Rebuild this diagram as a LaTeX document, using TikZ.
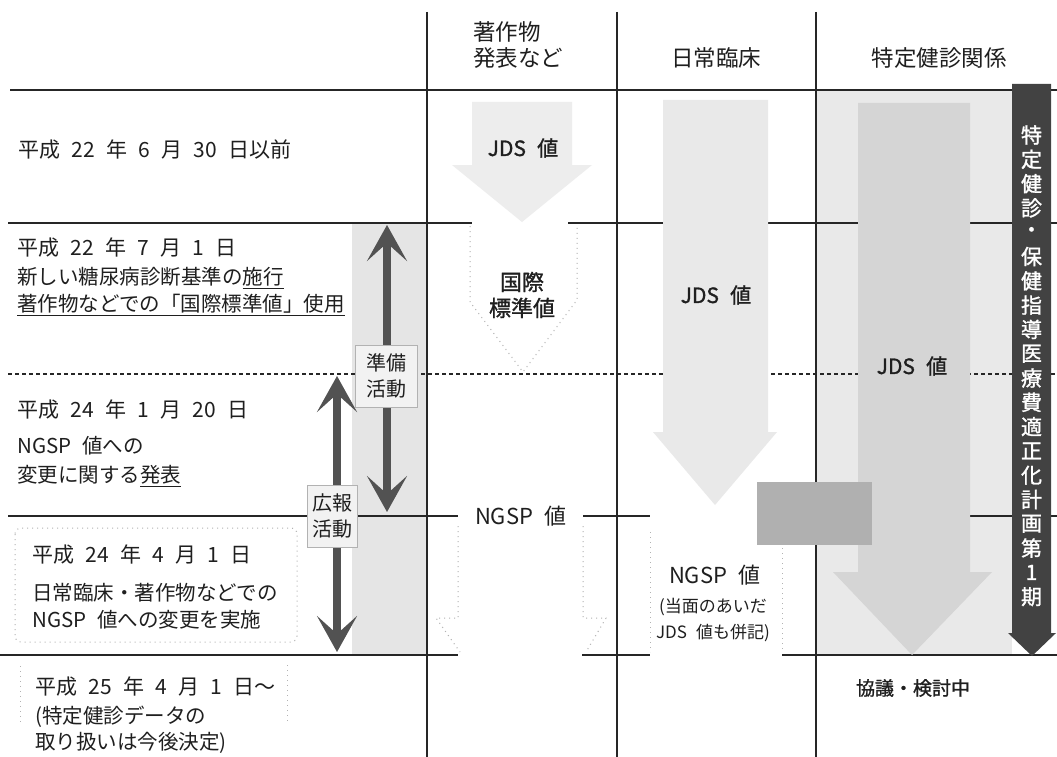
\documentclass[tikz,border=0pt]{standalone}
\usepackage{fontspec}
\setmainfont{Noto Sans CJK JP}[WordSpace=2.4]
\newfontfamily\jpb{Noto Sans CJK JP}[WordSpace=2.4,FakeBold=1.2]
\usetikzlibrary{arrows.meta}
\newcommand\myfs[1]{\fontsize{#1pt}{#1pt}\selectfont}
\begin{document}
\begin{tikzpicture}[x=1pt,y=-1pt,
  rule/.style={line width=1.1pt, draw=black!85},
  dashrule/.style={rule, dash pattern=on 4pt off 3pt},
  faintdot/.style={draw=gray!60, line width=1pt, dash pattern=on 1pt off 4pt},
  lbl/.style={inner sep=0pt, anchor=west, text=black!88, font=\myfs{20.5}},
  ttl/.style={lbl, font=\myfs{21}},
  hdr/.style={inner sep=0pt, text=black!88, font=\myfs{22.5}},
  val/.style={inner sep=0pt, text=black!88, font=\jpb\myfs{21}},
  ngsp/.style={inner sep=0pt, text=black!88, font=\myfs{22}},
  small/.style={inner sep=0pt, text=black!88, font=\myfs{17}},
  actbox/.style={draw=gray!60, fill=gray!10, line width=.8pt, inner sep=0pt,
     align=center, text=black!88, font=\fontsize{20pt}{26pt}\selectfont},
  dblarrow/.style={line width=8.5pt, draw=black!68,
     {Stealth[length=36pt,width=40pt,inset=18pt]}-{Stealth[length=36pt,width=40pt,inset=18pt]}},
  stip/.style={fill=gray!14, draw=none},
  bantxt/.style={inner sep=0pt, text=white, font=\jpb\myfs{21}}
]
\useasboundingbox (0,0) rectangle (1057,757);
\fill[white] (0,0) rectangle (1057,757);

% background fills
\fill[gray!20] (352,223) rectangle (427,655);
\fill[gray!17] (816,90) rectangle (1012,655);

% horizontal rules
\draw[rule] (10,90) -- (1057,90);
\draw[rule] (8,223) -- (472,223);
\draw[rule] (568,223) -- (1057,223);
\draw[dashrule] (8,374) -- (1057,374);
\draw[rule] (8,516) -- (458,516);
\draw[rule] (583,516) -- (650,516);
\draw[rule] (757,516) -- (1057,516);
\draw[rule] (0,655) -- (458,655);
\draw[rule] (582,655) -- (650,655);
\draw[rule] (782,655) -- (1057,655);
% vertical rules
\draw[rule] (427,12) -- (427,757);
\draw[rule] (617,12) -- (617,757);
\draw[rule] (816,12) -- (816,757);

% column 2 shapes
\fill[stip] (472,102) -- (572,102) -- (572,165) -- (592,165) -- (522,222) -- (452,165) -- (472,165) -- cycle;
\draw[faintdot] (470,226) -- (470,302) -- (523,372) -- (577,300) -- (577,226);
\draw[faintdot] (458,526) -- (458,618) -- (436,618) -- (460,652);
\draw[faintdot] (583,526) -- (583,618) -- (606,618) -- (586,652);

% column 3 shapes
\fill[stip, fill=gray!17] (663,100) -- (768,100) -- (768,432) -- (777,432) -- (715,505) -- (653,432) -- (663,432) -- cycle;
\draw[faintdot] (650,532) -- (650,652);
\draw[faintdot] (782,548) -- (782,652);

% column 4 arrow
\fill[gray!33] (858,103) -- (970,103) -- (970,572) -- (992,572) -- (912,655) -- (833,572) -- (858,572) -- cycle;

% dark box
\fill[gray!62] (757,482) rectangle (872,545);

% banner
\fill[black!74] (1012,84) -- (1051,84) -- (1051,633) -- (1056,633) -- (1032,656) -- (1008,633) -- (1012,633) -- cycle;
\foreach \c [count=\i from 0] in {特,定,健,診,・,保,健,指,導,医,療,費,適,正,化,計,画,第,1,期}{
  \node[bantxt] (ban\i) at (1031.5,{135+24.3*\i}) {\c};
}

% left dotted boxes
\draw[faintdot, rounded corners=6pt] (15,528) rectangle (297,642);
\draw[faintdot] (20,666) -- (20,722);
\draw[faintdot] (287,665) -- (287,722);

% activity arrows
\coordinate (pA) at (387,225);
\coordinate (pB) at (387,512);
\coordinate (kA) at (337,376);
\coordinate (kB) at (337,652);
\draw[dblarrow] (pA) -- (pB);
\draw[dblarrow] (kA) -- (kB);
\node[actbox, minimum width=62pt, minimum height=62pt] (junbi) at (386,376) {準備\\活動};
\node[actbox, minimum width=50pt, minimum height=62pt] (kouhou) at (332,516) {広報\\活動};

% headers
\node[hdr, align=left, font=\fontsize{22.5pt}{26pt}\selectfont] (h1) at (518,45) {著作物\\発表など};
\node[hdr] (h2) at (716,58) {日常臨床};
\node[hdr] (h3) at (939,58) {特定健診関係};

% left column texts
\node[ttl] (r1) at (18,150) {平成 22 年 6 月 30 日以前};
\node[ttl] (r2a) at (17,248) {平成 22 年 7 月 1 日};
\node[lbl] (r2b) at (17,278) {新しい糖尿病診断基準の\underline{施行}};
\node[lbl] (r2c) at (17,305) {\underline{著作物などでの「国際標準値」使用}};
\node[ttl] (r3a) at (17,410) {平成 24 年 1 月 20 日};
\node[lbl] (r3b) at (17,446) {NGSP 値への};
\node[lbl] (r3c) at (17,476) {変更に関する\underline{発表}};
\node[ttl] (r4a) at (32,555) {平成 24 年 4 月 1 日};
\node[lbl] (r4b) at (32,593) {日常臨床・著作物などでの};
\node[lbl] (r4c) at (32,620) {NGSP 値への変更を実施};
\node[ttl] (r5a) at (35,687) {平成 25 年 4 月 1 日～};
\node[lbl] (r5b) at (35,717) {(特定健診データの};
\node[lbl] (r5c) at (35,743) {取り扱いは今後決定)};

% column 2 texts
\node[val] (jds1) at (523,148) {JDS 値};
\node[val, align=center, font=\jpb\fontsize{22pt}{26pt}\selectfont] (kokusai) at (522,295) {国際\\標準値};
\node[ngsp, fill=white, inner xsep=3pt] (ng1) at (521,516) {NGSP 値};

% column 3 texts
\node[val] (jds2) at (716,295) {JDS 値};
\node[ngsp] (ng2) at (715,575) {NGSP 値};
\node[small] (ng2b) at (713,607) {(当面のあいだ};
\node[small] (ng2c) at (713,633) {JDS 値も併記)};

% column 4 texts
\node[val] (jds3) at (912,366) {JDS 値};
\node[val, font=\jpb\myfs{19}] (kk) at (913,688) {協議・検討中};
\end{tikzpicture}
\end{document}
